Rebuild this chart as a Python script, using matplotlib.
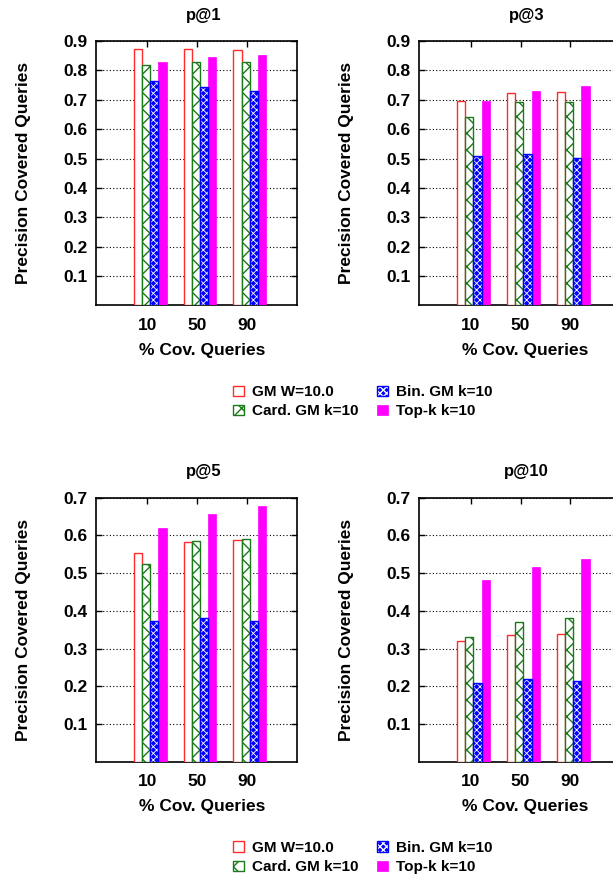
import matplotlib
matplotlib.use("Agg")
import matplotlib.pyplot as plt
import numpy as np

plt.rcParams['font.family'] = ['Liberation Sans', 'DejaVu Sans']
plt.rcParams['font.weight'] = 'bold'
plt.rcParams['hatch.linewidth'] = 1.0

categories = ['10', '50', '90']
series_names = ['GM W=10.0', 'Card. GM k=10', 'Bin. GM k=10', 'Top-k k=10']

titles = ['p@1', 'p@3', 'p@5', 'p@10']

p1_gm = [0.872, 0.872, 0.870]
p1_card = [0.820, 0.828, 0.828]
p1_bin = [0.764, 0.743, 0.731]
p1_topk = [0.829, 0.845, 0.854]

p3_gm = [0.697, 0.724, 0.726]
p3_card = [0.640, 0.692, 0.694]
p3_bin = [0.508, 0.515, 0.502]
p3_topk = [0.696, 0.731, 0.748]

p5_gm = [0.554, 0.582, 0.588]
p5_card = [0.524, 0.584, 0.590]
p5_bin = [0.373, 0.380, 0.373]
p5_topk = [0.619, 0.657, 0.677]

p10_gm = [0.319, 0.336, 0.339]
p10_card = [0.331, 0.370, 0.380]
p10_bin = [0.210, 0.219, 0.213]
p10_topk = [0.483, 0.517, 0.538]

panels = [
    (p1_gm, p1_card, p1_bin, p1_topk),
    (p3_gm, p3_card, p3_bin, p3_topk),
    (p5_gm, p5_card, p5_bin, p5_topk),
    (p10_gm, p10_card, p10_bin, p10_topk),
]
ymaxes = [0.9, 0.9, 0.7, 0.7]

W, H = 613, 880
fig = plt.figure(figsize=(W / 100, H / 100), dpi=100)

def rect(left, top, right, bottom):
    return [left / W, 1 - bottom / H, (right - left) / W, (bottom - top) / H]

rects = [
    rect(96, 41, 297, 305.5),
    rect(419.3, 41, 620.3, 305.5),
    rect(96, 497.7, 297, 761.7),
    rect(419.3, 497.7, 620.3, 761.7),
]

x = np.arange(1, len(categories) + 1)
bw = 0.165
start = -0.275

legend_handles = None
for i, (vals, ymax) in enumerate(zip(panels, ymaxes)):
    ax = fig.add_axes(rects[i])
    gm, card, binv, topk = vals
    h_gm = ax.bar(x + start, gm, bw, align='edge', facecolor='white',
                  edgecolor='#ff2a2a', linewidth=1.0, zorder=3)
    h_card = ax.bar(x + start + bw, card, bw, align='edge', facecolor='white',
                    edgecolor='#1a7a1a', hatch='xx', linewidth=1.0, zorder=3)
    with plt.rc_context({'hatch.linewidth': 0.6}):
        h_bin_fill = ax.bar(x + start + 2 * bw, binv, bw, align='edge',
                            facecolor='#0000ff', edgecolor='white', hatch='xxxxx',
                            linewidth=0, zorder=3)
    for p in h_bin_fill:
        if hasattr(p, 'set_hatch_linewidth'):
            p.set_hatch_linewidth(0.6)
    h_bin_edge = ax.bar(x + start + 2 * bw, binv, bw, align='edge', fill=False,
                        edgecolor='#0000ff', linewidth=1.0, zorder=4)
    h_top = ax.bar(x + start + 3 * bw, topk, bw, align='edge', facecolor='#ff00ff',
                   edgecolor='#ff00ff', linewidth=0.5, zorder=3)
    if legend_handles is None:
        legend_handles = [h_gm, h_card, (h_bin_fill, h_bin_edge), h_top]

    ax.set_xlim(-0.03, 4.0)
    ax.set_ylim(0, ymax)
    ax.set_xticks(x)
    ax.set_xticklabels(categories, fontsize=12.5, fontweight='bold')
    yt = np.round(np.arange(0.1, ymax + 0.001, 0.1), 1)
    ax.set_yticks(yt)
    ax.set_yticklabels([f'{v:.1f}' for v in yt], fontsize=12.5, fontweight='bold')
    ax.tick_params(axis='x', direction='in', bottom=False, top=True, length=4,
                   width=1, pad=9)
    ax.tick_params(axis='y', direction='in', left=True, right=True, length=4,
                   width=1, pad=6)
    ax.grid(axis='y', color='black', linestyle=(0, (1, 2)), linewidth=0.8)
    ax.set_axisbelow(True)
    for s in ax.spines.values():
        s.set_linewidth(1.2)
    ax.set_ylabel('Precision Covered Queries', fontsize=12.5, fontweight='bold')
    ax.yaxis.set_label_coords(-0.325, 0.5)
    ax.set_xlabel('% Cov. Queries', fontsize=12.5, fontweight='bold')
    ax.xaxis.set_label_coords(0.526, -0.142)
    ax.text(0.534, 1.098, titles[i], transform=ax.transAxes, ha='center',
            va='center', fontsize=12, fontweight='bold')

for cy in (401.7, 857.5):
    fig.legend(legend_handles, series_names, loc='center',
               bbox_to_anchor=(362.5 / W, 1 - cy / H), ncol=2, frameon=False,
               handlelength=0.75, handleheight=0.65,
               handletextpad=0.5, columnspacing=1.2, labelspacing=0.35,
               borderpad=0, borderaxespad=0, prop={'weight': 'bold', 'size': 11})

fig.savefig('out.png', dpi=100)
